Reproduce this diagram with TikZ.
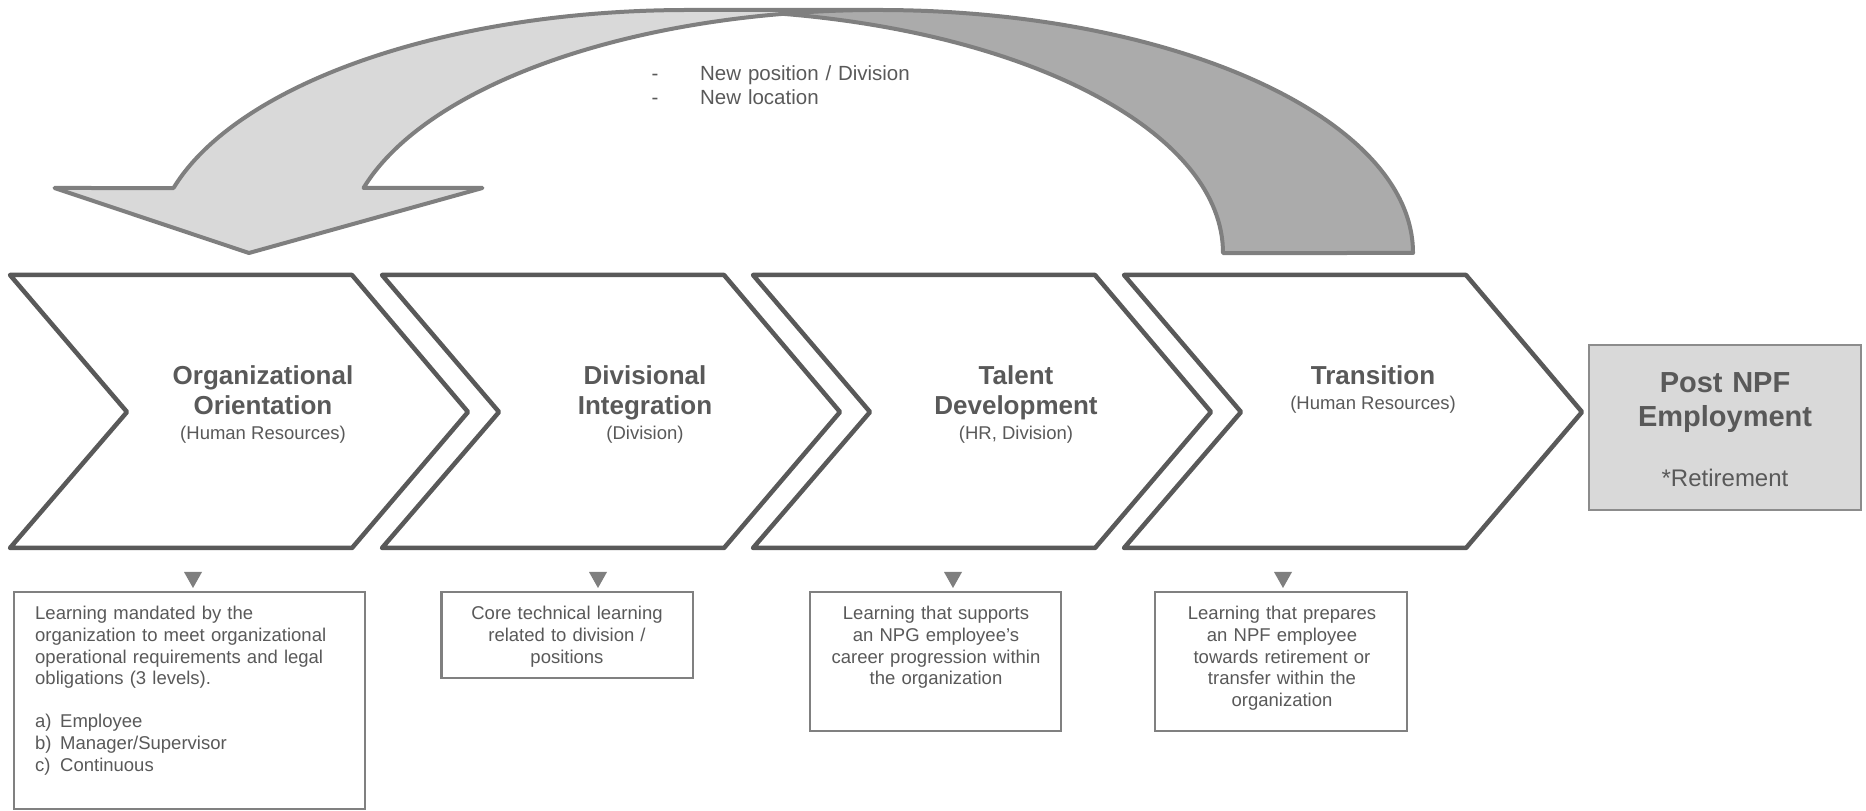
\documentclass[tikz,border=0pt]{standalone}
\usepackage{fontspec}
\setmainfont{Liberation Sans}
\definecolor{chevline}{HTML}{595959}
\definecolor{txtgray}{HTML}{595959}
\definecolor{boxline}{HTML}{808080}
\definecolor{trifill}{HTML}{7F7F7F}
\definecolor{arrline}{HTML}{7F7F7F}
\definecolor{lightfill}{HTML}{D9D9D9}
\definecolor{darkfill}{HTML}{ABABAB}
\definecolor{postfill}{HTML}{D9D9D9}
\definecolor{postline}{HTML}{8C8C8C}
\tikzset{
  chev/.style={draw=chevline, line width=4.5pt, line join=round, fill=white},
  ttl/.style={font=\fontsize{26}{30}\selectfont\bfseries, text=txtgray, align=center, text width=300pt, inner sep=0pt, anchor=base},
  subttl/.style={font=\fontsize{18.5}{21.6}\selectfont, text=txtgray, anchor=base, inner sep=0pt},
  desctxt/.style={font=\fontsize{18.5}{21.6}\selectfont, text=txtgray, inner sep=0pt},
  descbox/.style={draw=boxline, line width=2.5pt, fill=white, inner sep=0pt, outer sep=0pt},
  postbox/.style={draw=postline, line width=2pt, fill=postfill, inner sep=0pt, outer sep=0pt},
  posttl/.style={font=\fontsize{29}{33.5}\selectfont\bfseries, text=txtgray, align=center, text width=260pt, inner sep=0pt, anchor=base},
  postsub/.style={font=\fontsize{24}{28}\selectfont, text=txtgray, anchor=base, inner sep=0pt},
  toptxt/.style={font=\fontsize{20.5}{23.5}\selectfont, text=txtgray, inner sep=0pt},
  arrowline/.style={draw=arrline, line width=4pt, line join=round},
  marker/.style={fill=trifill},
  ell/.style={x radius=534.5, y radius=243}
}
\begin{document}
\begin{tikzpicture}[x=1pt,y=1pt]
\useasboundingbox (0,0) rectangle (1866,811);

% curved arrow: front (light) part
\fill[lightfill] (249,558) -- (482.5,623) -- (363.5,623)
  arc[ell, start angle=164.49, end angle=90] -- (688.5,801)
  arc[ell, start angle=90, end angle=164.49] -- (54.5,623) -- cycle;
% back (dark) part
\fill[darkfill] (1413,558) arc[ell, start angle=0, end angle=100.24]
  arc[ell, start angle=79.76, end angle=0] -- cycle;
% outline
\draw[arrowline] (783.5,797.1) arc[ell, start angle=79.76, end angle=0]
  -- (1413,558) arc[ell, start angle=0, end angle=90]
  -- (688.5,801) arc[ell, start angle=90, end angle=164.49]
  -- (54.5,623) -- (249,558) -- (482.5,623) -- (363.5,623)
  arc[ell, start angle=164.49, end angle=90];

% chevrons
\foreach \x in {10,382,753,1124}{
  \draw[chev] (\x,536) -- ++(342,0) -- ++(116,-137) -- ++(-116,-136)
    -- ++(-342,0) -- ++(117,136) -- cycle;
}

\node[ttl] (t1) at (263,426) {Organizational\\Orientation};
\node[subttl] (s1) at (263,371) {(Human Resources)};
\node[ttl] (t2) at (645,426) {Divisional\\Integration};
\node[subttl] (s2) at (645,371) {(Division)};
\node[ttl] (t3) at (1016,426) {Talent\\Development};
\node[subttl] (s3) at (1016,371) {(HR, Division)};
\node[ttl] (t4) at (1373,426) {Transition};
\node[subttl] (s4) at (1373,401) {(Human Resources)};

% post NPF box
\node[postbox, minimum width=272pt, minimum height=165pt] (post) at (1725,383.5) {};
\node[posttl] (pt) at (1725,418.3) {Post NPF\\Employment};
\node[postsub] (ps) at (1725,324.3) {*Retirement};

% top text
\node[toptxt, anchor=base west, text width=320pt, align=left] (nt) at (651.5,730.3)
  {\makebox[48.5pt][l]{-}New position / Division\\\makebox[48.5pt][l]{-}New location};

% markers
\fill[marker] (184,239) -- (202,239) -- (193,223) -- cycle;
\fill[marker] (589,239) -- (607,239) -- (598,223) -- cycle;
\fill[marker] (944,239) -- (962,239) -- (953,223) -- cycle;
\fill[marker] (1274,239) -- (1292,239) -- (1283,223) -- cycle;

% description boxes
\node[descbox, minimum width=351pt, minimum height=217pt] (b1) at (189.5,110.5) {};
\node[descbox, minimum width=251.5pt, minimum height=86pt] (b2) at (567.25,176) {};
\node[descbox, minimum width=251pt, minimum height=139pt] (b3) at (935.5,149.5) {};
\node[descbox, minimum width=252pt, minimum height=139pt] (b4) at (1281,149.5) {};

\node[desctxt, anchor=base west, text width=320pt, align=left] (d1) at (35,191)
  {Learning mandated by the\\organization to meet organizational\\operational requirements and legal\\obligations (3 levels).\\[21.6pt]%
   \makebox[25pt][l]{a)}Employee\\\makebox[25pt][l]{b)}Manager/Supervisor\\\makebox[25pt][l]{c)}Continuous};
\node[desctxt, anchor=base, text width=240pt, align=center] (d2) at (567,191)
  {Core technical learning\\related to division /\\positions};
\node[desctxt, anchor=base, text width=240pt, align=center] (d3) at (936,191)
  {Learning that supports\\an NPG employee’s\\career progression within\\the organization};
\node[desctxt, anchor=base, text width=240pt, align=center] (d4) at (1282,191)
  {Learning that prepares\\an NPF employee\\towards retirement or\\transfer within the\\organization};
\end{tikzpicture}
\end{document}
